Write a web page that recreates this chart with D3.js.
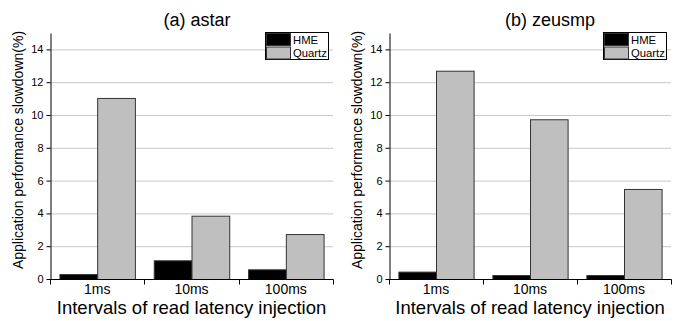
<!DOCTYPE html>
<html><head><meta charset="utf-8">
<script src="https://cdn.jsdelivr.net/npm/d3@7"></script>
<style>body{margin:0;background:#fff;} svg{display:block;font-family:"Liberation Sans",Arial,sans-serif;}</style>
</head><body>
<svg id="chart" width="678" height="321"></svg>
<script>
const categories = ["1ms", "10ms", "100ms"];
const seriesNames = ["HME", "Quartz"];
const astarHME = [0.30, 1.14, 0.59];
const astarQuartz = [11.04, 3.86, 2.74];
const zeusHME = [0.45, 0.24, 0.24];
const zeusQuartz = [12.7, 9.74, 5.49];
const yTicks = [0, 2, 4, 6, 8, 10, 12, 14];
const panelTitles = ["(a) astar", "(b) zeusmp"];
const colors = {HME: "#000000", Quartz: "#c0bfc0"};

const panels = [
  {title: panelTitles[0], HME: astarHME, Quartz: astarQuartz, x0: 50, x1: 333, titleX: 197},
  {title: panelTitles[1], HME: zeusHME, Quartz: zeusQuartz, x0: 389, x1: 671, titleX: 550}
];

const svg = d3.select("#chart");
const yTop = 33, yBot = 279;
const y = d3.scaleLinear().domain([0, 15]).range([yBot, yTop]);

panels.forEach(p => {
  const g = svg.append("g");
  const x = d3.scaleBand().domain(categories).range([p.x0, p.x1]).padding(0);
  const bw = x.bandwidth();
  const xs = d3.scaleBand().domain(seriesNames).range([bw * 0.1, bw * 0.9]).padding(0);

  // grid
  g.selectAll("line.grid").data(yTicks.filter(t => t > 0)).enter().append("line")
    .attr("x1", p.x0).attr("x2", p.x1)
    .attr("y1", d => y(d) + 0.5).attr("y2", d => y(d) + 0.5)
    .attr("stroke", "#c8c8c8").attr("stroke-width", 1);

  // bars
  categories.forEach((c, i) => {
    seriesNames.forEach(s => {
      g.append("rect")
        .attr("x", x(c) + xs(s) + 0.5)
        .attr("y", y(p[s][i]) + 0.5)
        .attr("width", xs.bandwidth())
        .attr("height", y(0) - y(p[s][i]))
        .attr("fill", colors[s])
        .attr("stroke", "#333").attr("stroke-width", 1);
    });
  });

  // y axis
  const yAxis = d3.axisLeft(y).tickValues(yTicks).tickSize(4).tickSizeOuter(0).tickPadding(3);
  const ya = g.append("g").attr("transform", `translate(${p.x0 + 0.5},0)`).call(yAxis);
  ya.select(".domain").attr("stroke", "#000");
  ya.selectAll(".tick line").attr("stroke", "#000");
  ya.selectAll(".tick text").attr("font-size", 11).attr("fill", "#000")
    .attr("font-family", "Liberation Sans, Arial, sans-serif");

  // x axis
  const xa = g.append("g").attr("transform", `translate(0,${yBot + 0.5})`);
  xa.append("line").attr("x1", p.x0).attr("x2", p.x1 + 0.5).attr("stroke", "#000");
  const edges = categories.map(c => x(c)).concat([p.x1]);
  xa.selectAll("line.tk").data(edges).enter().append("line")
    .attr("x1", d => Math.round(d) + 0.5).attr("x2", d => Math.round(d) + 0.5)
    .attr("y1", 0).attr("y2", 5).attr("stroke", "#000");
  xa.selectAll("text").data(categories).enter().append("text")
    .attr("x", d => x(d) + bw / 2).attr("y", 14)
    .attr("text-anchor", "middle").attr("font-size", 14).text(d => d);

  // titles
  g.append("text").attr("x", p.titleX).attr("y", 26)
    .attr("text-anchor", "middle").attr("font-size", 18).text(p.title);
  g.append("text").attr("x", (p.x0 + p.x1) / 2).attr("y", 314)
    .attr("text-anchor", "middle").attr("font-size", 18.5).text("Intervals of read latency injection");
  g.append("text")
    .attr("transform", `translate(${p.x0 - 27.5},150) rotate(-90)`)
    .attr("text-anchor", "middle").attr("font-size", 14)
    .text("Application performance slowdown(%)");

  // legend
  const lx = p.x1 - 68, ly = 32;
  const lg = g.append("g");
  lg.append("rect").attr("x", lx + 0.5).attr("y", ly + 0.5).attr("width", 63).attr("height", 27)
    .attr("fill", "#fff").attr("stroke", "#000");
  seriesNames.forEach((s, i) => {
    lg.append("rect").attr("x", lx + 1.5).attr("y", ly + 1.5 + i * 13.5)
      .attr("width", 24).attr("height", 12)
      .attr("fill", colors[s]).attr("stroke", "#333");
    lg.append("text").attr("x", lx + 28).attr("y", ly + 11.5 + i * 13.5)
      .attr("font-size", 11.3).text(s);
  });
});
</script>
</body></html>
